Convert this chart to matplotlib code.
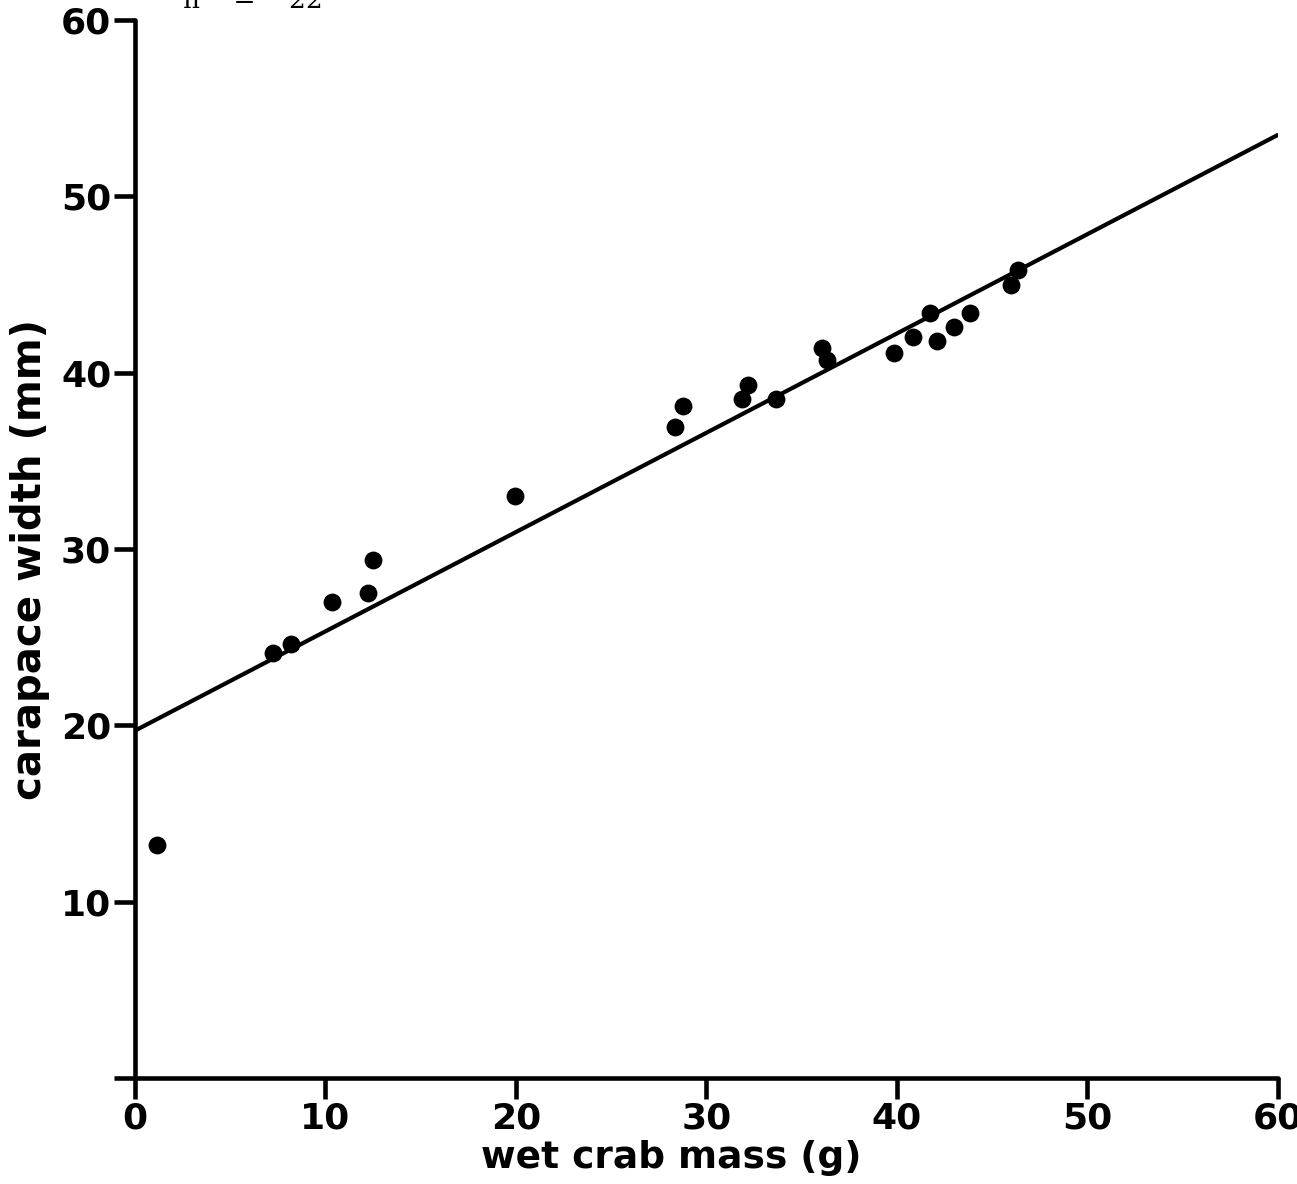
import matplotlib
matplotlib.use("Agg")
import matplotlib.pyplot as plt
import numpy as np

# Data
mass = [1.15, 7.24, 8.19, 10.34, 12.23, 12.49, 19.95, 28.35, 28.77, 31.86, 32.18,
        33.65, 36.06, 36.33, 39.84, 40.84, 41.73, 42.1, 43.0, 43.83, 45.98, 46.35]
width = [13.2, 24.1, 24.6, 27.0, 27.5, 29.4, 33.0, 36.9, 38.1, 38.5, 39.3,
         38.5, 41.4, 40.7, 41.1, 42.0, 43.4, 41.8, 42.6, 43.4, 45.0, 45.8]
fit_x = [0, 60]
fit_intercept = 19.7
fit_slope = 0.563
xticks = [0, 10, 20, 30, 40, 50, 60]
yticks = [0, 10, 20, 30, 40, 50, 60]
ytick_labels = ["", "10", "20", "30", "40", "50", "60"]

plt.rcParams['font.family'] = ['DejaVu Sans']

fig = plt.figure(figsize=(12.97, 11.84), dpi=100)
ax = fig.add_axes([0.104, 0.0895, 0.881, 0.8935])

ax.scatter(mass, width, s=165, color='black', zorder=3, linewidths=0)
fy = [fit_intercept + fit_slope * v for v in fit_x]
ax.plot(fit_x, fy, color='black', lw=3, solid_capstyle='round', zorder=2)

ax.set_xlim(0, 60)
ax.set_ylim(0, 60)
ax.spines['top'].set_visible(False)
ax.spines['right'].set_visible(False)
for s in ('left', 'bottom'):
    ax.spines[s].set_linewidth(3.3)
    ax.spines[s].set_capstyle('round')

ax.set_xticks(xticks)
ax.set_xticklabels([str(v) for v in xticks])
ax.set_yticks(yticks)
ax.set_yticklabels(ytick_labels)
ax.tick_params(axis='both', direction='out', length=15, width=3.3,
               labelsize=26, pad=2)
for lab in ax.get_xticklabels() + ax.get_yticklabels():
    lab.set_fontweight('bold')

ax.set_xlabel("wet crab mass (g)", fontsize=27, fontweight='bold', va='top')
ax.xaxis.set_label_coords(0.469, -0.059)
ax.set_ylabel("carapace width (mm)", fontsize=29, fontweight='bold', va='center')
ax.yaxis.set_label_coords(-0.092, 0.49)

fig.text(0.141, 0.9930, "n    =    22", fontsize=19, family=['DejaVu Serif'],
         va='baseline', ha='left', color='black')

fig.savefig("out.png", dpi=100, facecolor='white')
